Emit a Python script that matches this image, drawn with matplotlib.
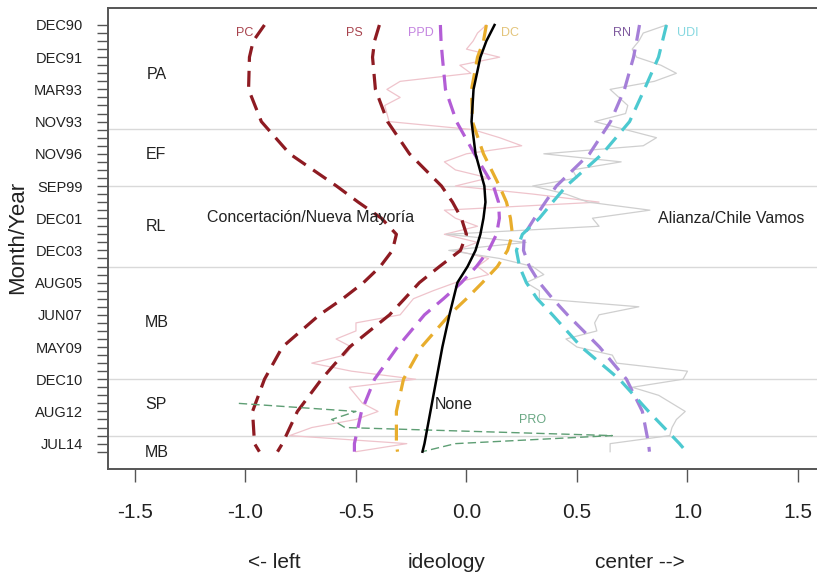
import numpy as np
import matplotlib.pyplot as plt

plt.rcParams['font.family'] = ['Liberation Sans', 'DejaVu Sans']

# survey waves (index 0 = DEC90, 53 = last wave)
n_waves = 54
tick_labels = ['DEC90', 'DEC91', 'MAR93', 'NOV93', 'NOV96', 'SEP99', 'DEC01',
               'DEC03', 'AUG05', 'JUN07', 'MAY09', 'DEC10', 'AUG12', 'JUL14']
tick_waves = [0, 4, 8, 12, 16, 20, 24, 28, 32, 36, 40, 44, 48, 52]

# smoothed party positions read at these waves
smooth_waves = [0, 2, 4, 8, 12, 16, 20, 22, 24, 26, 28, 30, 32, 34, 36, 40,
                44, 48, 52, 53]
pc = [-0.914, -0.965, -0.982, -0.986, -0.928, -0.80, -0.588, -0.49, -0.385,
      -0.317, -0.335, -0.39, -0.466, -0.56, -0.665, -0.833, -0.914, -0.968,
      -0.959, -0.937]
ps = [-0.394, -0.416, -0.425, -0.412, -0.357, -0.258, -0.113, -0.063, -0.023,
      0.0, -0.027, -0.122, -0.213, -0.28, -0.348, -0.529, -0.656, -0.765,
      -0.833, -0.855]
ppd = [-0.118, -0.115, -0.109, -0.095, -0.045, 0.036, 0.122, 0.145, 0.149,
       0.136, 0.10, 0.045, -0.023, -0.104, -0.19, -0.312, -0.416, -0.475,
       -0.507, -0.507]
dc = [0.09, 0.077, 0.05, 0.023, 0.027, 0.077, 0.149, 0.181, 0.199, 0.208,
      0.186, 0.14, 0.072, 0.0, -0.077, -0.204, -0.285, -0.317, -0.317, -0.312]
none = [0.127, 0.09, 0.063, 0.032, 0.023, 0.041, 0.081, 0.086, 0.077, 0.063,
        0.041, 0.005, -0.041, -0.059, -0.077, -0.109, -0.136, -0.163, -0.19,
        -0.199]
rn = [0.783, 0.77, 0.756, 0.715, 0.652, 0.557, 0.407, 0.357, 0.308, 0.262,
      0.258, 0.285, 0.33, 0.39, 0.457, 0.602, 0.724, 0.796, 0.824, 0.828]
udi = [0.905, 0.887, 0.869, 0.805, 0.738, 0.615, 0.452, 0.39, 0.33, 0.253,
       0.226, 0.24, 0.271, 0.32, 0.389, 0.52, 0.692, 0.824, 0.964, 0.995]

# PRO only in the last waves
pro_waves = [47, 48, 49, 50, 51, 52, 53]
pro = [-1.03, -0.50, -0.61, -0.55, 0.66, -0.05, -0.20]

# raw (unsmoothed) series, one value per wave
raw_left = [0.09, 0.05, 0.03, 0.0, 0.15, -0.03, 0.02, -0.30, -0.36, -0.30,
            -0.37, -0.36, -0.35, 0.03, 0.15, 0.25, 0.0, -0.10, -0.05, 0.10,
            -0.05, 0.30, 0.60, -0.10, -0.05, 0.05, -0.10, 0.05, -0.05, 0.10,
            0.05, 0.10, -0.05, -0.15, -0.24, -0.27, -0.30, -0.50, -0.50, -0.59,
            -0.52, -0.55, -0.70, -0.52, -0.23, -0.53, -0.50, -0.47, -0.40, -0.50,
            -0.70, -0.80, -0.27, -0.50]
raw_right = [0.905, 0.80, 0.78, 0.75, 0.77, 0.88, 0.95, 0.85, 0.65, 0.69,
             0.73, 0.72, 0.58, 0.72, 0.86, 0.80, 0.35, 0.70, 0.48, 0.50,
             0.30, 0.45, 0.55, 0.83, 0.57, 0.60, -0.09, 0.27, -0.08, 0.15,
             0.30, 0.35, 0.27, 0.33, 0.33, 0.78, 0.60, 0.58, 0.59, 0.45,
             0.50, 0.66, 0.68, 1.0, 0.98, 0.75, 0.87, 0.93, 0.99, 0.95,
             0.93, 0.92, 0.65, 0.65]

period_breaks = [12.9, 20.0, 30.0, 44.0, 51.0]
periods = ['PA', 'EF', 'RL', 'MB', 'SP', 'MB']
period_y = [6.2, 16.1, 25.0, 37.0, 47.1, 53.1]

fig = plt.figure(figsize=(8.17, 5.75), dpi=100)
ax = fig.add_axes([108 / 817, 106 / 575, 722 / 817, 461 / 575])
ax.set_xlim(-1.622, 1.645)
ax.set_ylim(55.15, -2.11)

waves = np.arange(n_waves)
for b in period_breaks:
    ax.axhline(b, color='#d9d9d9', lw=1, zorder=1)

ax.plot(raw_left, waves, color='#efc4cc', lw=0.9, zorder=2)
ax.plot(raw_right, waves, color='#cfcfcf', lw=0.9, zorder=2)

dash = (5, 2.8)
series = [
    (pc, '#8e1b22'), (ps, '#8e1b22'), (ppd, '#b35dd6'), (dc, '#e8ad2c'),
    (rn, '#a57fd8'), (udi, '#4cc9d0'),
]
for vals, col in series:
    ax.plot(vals, smooth_waves, color=col, lw=2.3, dashes=dash, zorder=3)
ax.plot(none, smooth_waves, color='black', lw=1.8, zorder=4)
ax.plot(pro, pro_waves, color='#5e9e74', lw=1.0, dashes=(6, 3), zorder=3)

# party labels at top
for name, x, col in [('PC', -1.005, '#a8444e'), ('PS', -0.507, '#a8444e'),
                     ('PPD', -0.204, '#c485e0'), ('DC', 0.195, '#e3c47a'),
                     ('RN', 0.702, '#7f5a9e'), ('UDI', 1.00, '#86d8e0')]:
    ax.text(x, 1.0, name, color=col, fontsize=9, ha='center', va='center', zorder=5)

for lab, yy in zip(periods, period_y):
    ax.text(-1.403, yy, lab, fontsize=11.5, ha='center', va='center', color='#222222')

ax.text(-0.706, 23.9, 'Concertación/Nueva Mayoría', fontsize=11.5,
        ha='center', va='center', color='#222222')
ax.text(1.199, 24.0, 'Alianza/Chile Vamos', fontsize=11.5,
        ha='center', va='center', color='#222222')
ax.text(-0.145, 47.2, 'None', fontsize=11.5, ha='left', va='center', color='#222222')
ax.text(0.30, 49.1, 'PRO', fontsize=9, ha='center', va='center', color='#6aa884')

ax.set_yticks(waves, minor=True)
ax.set_yticks(tick_waves)
ax.set_yticklabels(tick_labels, fontsize=10.5, color='#222222')
ax.tick_params(axis='y', which='both', length=8, width=1, color='#555555', pad=10)
ax.set_xticks([-1.5, -1.0, -0.5, 0.0, 0.5, 1.0, 1.5])
ax.set_xticklabels(['-1.5', '-1.0', '-0.5', '0.0', '0.5', '1.0', '1.5'],
                   fontsize=15, color='#222222')
ax.tick_params(axis='x', length=9.5, width=1, color='#555555', pad=15)

for side in ['left', 'bottom', 'top']:
    ax.spines[side].set_color('#555555')
    ax.spines[side].set_linewidth(1.4)
ax.spines['right'].set_visible(False)

fig.text(18 / 817, 1 - 237 / 575, 'Month/Year', rotation=90, fontsize=16,
         ha='center', va='center', color='#222222')
for txt, xp in [('<- left', 274), ('ideology', 447), ('center -->', 640)]:
    fig.text(xp / 817, 1 - 563 / 575, txt, fontsize=15, ha='center',
             va='center', color='#222222')

fig.savefig('out.png', dpi=100)
